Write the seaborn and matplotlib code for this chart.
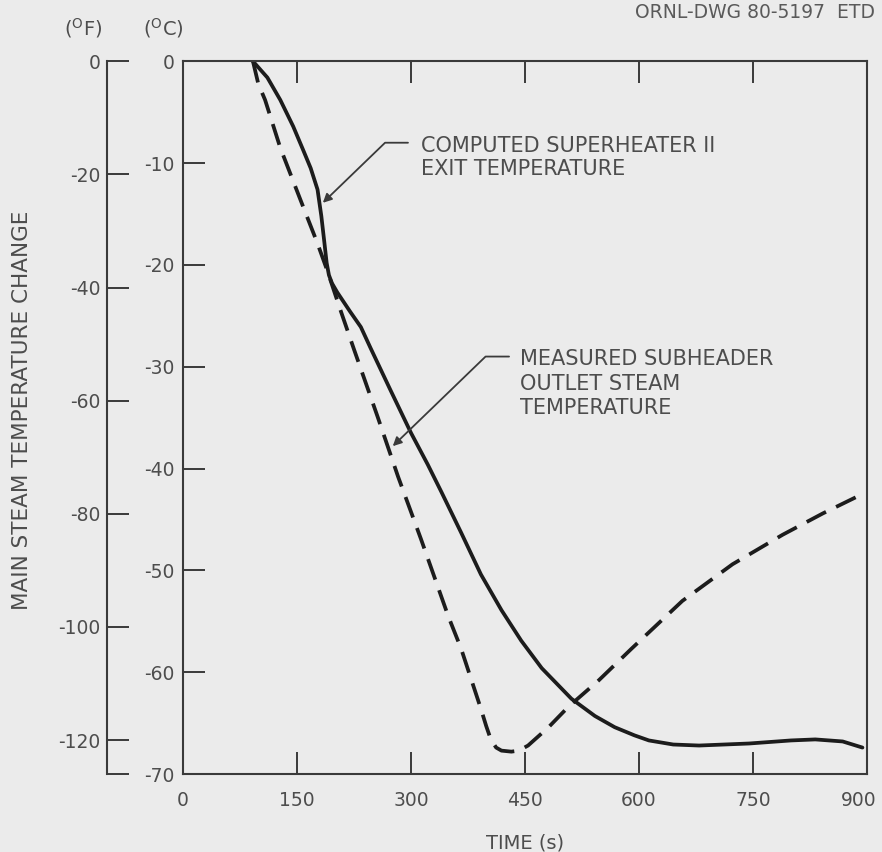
import matplotlib
matplotlib.use("Agg")
import matplotlib.pyplot as plt
from matplotlib.transforms import ScaledTranslation
import pandas as pd
import seaborn as sns

measured_time = [92, 99, 108, 128, 155, 177, 190, 207, 225, 256, 283, 313,
                 349, 366, 392, 399, 405, 412, 419, 432, 442, 454, 481, 507,
                 547, 590, 657, 723, 789, 842, 894]
measured_temp = [0.0, -2.2, -3.8, -8.5, -13.7, -17.9, -20.6, -24.4, -28.3,
                 -34.9, -40.8, -46.9, -54.5, -57.7, -63.6, -65.3, -66.6, -67.4,
                 -67.7, -67.8, -67.7, -67.2, -65.4, -63.4, -60.8, -57.7, -53.0,
                 -49.4, -46.5, -44.4, -42.5]

computed_time = [92, 111, 128, 145, 158, 168, 177, 182, 186, 189, 192, 196, 203,
                 220, 234, 247, 273, 300, 322, 340, 366, 392, 419, 445, 472,
                 511, 542, 568, 594, 613, 645, 679, 745, 800, 832, 868, 894]
computed_temp = [0.0, -1.6, -3.8, -6.4, -8.7, -10.5, -12.6, -15.2, -17.8, -19.8,
                 -21.0, -21.8, -22.7, -24.6, -26.1, -28.2, -32.3, -36.5, -39.6,
                 -42.3, -46.3, -50.4, -53.9, -56.9, -59.6, -62.6, -64.3, -65.4,
                 -66.2, -66.7, -67.1, -67.2, -67.0, -66.7, -66.6, -66.8, -67.4]

x_ticks = [0, 150, 300, 450, 600, 750, 900]
c_ticks = [0, -10, -20, -30, -40, -50, -60, -70]
f_ticks = [0, -20, -40, -60, -80, -100, -120]

computed_label = "COMPUTED SUPERHEATER II\nEXIT TEMPERATURE"
measured_label = "MEASURED SUBHEADER\nOUTLET STEAM\nTEMPERATURE"

df = pd.concat([
    pd.DataFrame({"time": computed_time, "temp": computed_temp, "series": "computed"}),
    pd.DataFrame({"time": measured_time, "temp": measured_temp, "series": "measured"}),
], ignore_index=True)

sns.set_theme(style="ticks")
plt.rcParams["font.family"] = ["DejaVu Sans"]
plt.rcParams["axes.unicode_minus"] = False

bg = "#ebebeb"
ink = "#3a3a3a"
txt = "#4d4d4d"

fig = plt.figure(figsize=(8.82, 8.52), dpi=100, facecolor=bg)
ax = fig.add_axes([0.2075, 0.0915, 0.7755, 0.8366], facecolor=bg)

sns.lineplot(data=df, x="time", y="temp", style="series",
             dashes={"computed": "", "measured": (5.8, 3.0)},
             color="#1c1c1c", linewidth=2.7, sort=False, estimator=None,
             legend=False, ax=ax)
for ln in ax.lines:
    ln.set_solid_joinstyle("round")

ax.set_xlim(0, 900)
ax.set_ylim(-70, 0)
ax.set_xticks(x_ticks)
ax.set_xticklabels([str(v) for v in x_ticks])
ax.set_yticks(c_ticks)
ax.set_yticklabels([str(v) for v in c_ticks])
ax.set_xlabel("")
ax.set_ylabel("")
for s in ax.spines.values():
    s.set_visible(True)
    s.set_color(ink)
    s.set_linewidth(1.5)
ax.tick_params(axis="both", direction="in", length=16, width=1.4, color=ink,
               top=True, right=True, labelsize=13.5, labelcolor=txt)
ax.tick_params(axis="x", pad=12)
ax.tick_params(axis="y", pad=6)
last = ax.get_xticklabels()[-1]
last.set_transform(last.get_transform() + ScaledTranslation(-6 / 72, 0, fig.dpi_scale_trans))

# Fahrenheit scale as an offset left spine
ax2 = ax.twinx()
ax2.set_ylim(-126, 0)
ax2.yaxis.tick_left()
for side in ("right", "top", "bottom"):
    ax2.spines[side].set_visible(False)
ax2.spines["left"].set_visible(True)
ax2.spines["left"].set_position(("axes", -0.111))
ax2.spines["left"].set_color(ink)
ax2.spines["left"].set_linewidth(1.5)
ax2.set_yticks(f_ticks + [-126])
ax2.set_yticklabels([str(v) for v in f_ticks] + [""])
ax2.tick_params(axis="y", direction="in", length=16, width=1.4, color=ink,
                labelsize=13.5, labelcolor=txt, pad=5, left=True, right=False)

# annotations with leader arrows
arrow = dict(arrowstyle="-|>", color=ink, lw=1.3, mutation_scale=13,
             shrinkA=0, shrinkB=0,
             connectionstyle="angle,angleA=0,angleB=44,rad=0")
ax.annotate("", xy=(184, -13.9), xytext=(296, -8.0), arrowprops=arrow)
ax.text(313, -7.3, computed_label, fontsize=15, color=txt, va="top",
        ha="left", linespacing=1.2)
ax.annotate("", xy=(276, -37.8), xytext=(429, -29.0), arrowprops=arrow)
ax.text(444, -28.3, measured_label, fontsize=15, color=txt, va="top",
        ha="left", linespacing=1.27)

ax.text(0.5, -0.097, "TIME (s)", transform=ax.transAxes, fontsize=14,
        color=txt, ha="center", va="center")
ax.text(-0.235, 0.51, "MAIN STEAM TEMPERATURE CHANGE", transform=ax.transAxes,
        fontsize=15.5, color=txt, rotation=90, ha="center", va="center")

fig.text(83 / 882, 1 - 28 / 852, r"($^{\mathrm{O}}$F)", fontsize=14, color=txt,
         ha="center", va="center")
fig.text(163 / 882, 1 - 28 / 852, r"($^{\mathrm{O}}$C)", fontsize=14, color=txt,
         ha="center", va="center")
fig.text(875 / 882, 1 - 13 / 852, "ORNL-DWG 80-5197  ETD", fontsize=13.5,
         color="#5a5a5a", ha="right", va="center")

fig.savefig("out.png", dpi=100, facecolor=bg)
